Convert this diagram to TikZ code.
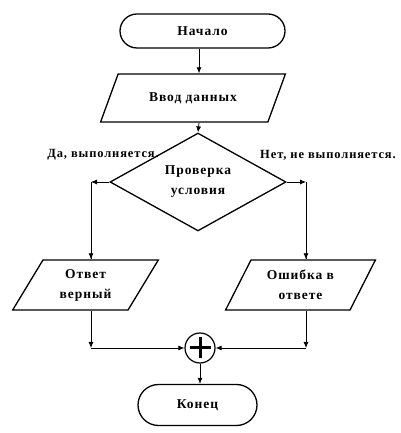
\documentclass[tikz,border=0pt]{standalone}
\usepackage{fontspec}
\setmainfont{Liberation Serif}[LetterSpace=7]
\usepackage{tikz}
\usetikzlibrary{positioning,arrows.meta,shapes,calc}

\begin{document}
\begin{tikzpicture}[x=1pt, y=1pt,
    term/.style={rounded rectangle, draw=black, line width=1.3pt,
                 minimum height=34pt, inner sep=0pt,
                 font=\fontsize{13.5}{15}\selectfont\bfseries},
    io/.style={trapezium, trapezium stretches=true, draw=black, line width=1.3pt,
               inner sep=0pt, align=center,
               font=\fontsize{13.5}{20}\selectfont\bfseries},
    cond/.style={diamond, draw=black, line width=1.3pt, inner sep=0pt,
                 minimum width=176pt, minimum height=80pt, align=center,
                 font=\fontsize{13.5}{20}\selectfont\bfseries},
    lbl/.style={font=\fontsize{12.5}{14}\selectfont\bfseries},
    ar/.style={-{Latex[length=6pt,width=5pt]}, line width=0.8pt},
    ln/.style={line width=0.8pt}
]
    \useasboundingbox (0,0) rectangle (400,433);

    % main column
    \node[term, minimum width=165pt] (beg) at (202.5,402) {Начало};
    \node[io, minimum width=185pt, minimum height=48pt,
          trapezium left angle=47.5, trapezium right angle=132.5] (inp) at (193,335) {Ввод данных};
    \node[cond] (chk) at (198,251) {Проверка\\условия};
    \node[lbl] (yes) at (103,278) {Да, выполняется.};
    \node[lbl] (no) at (328,278) {Нет, не выполняется.};

    % branches
    \node[io, minimum width=146pt, minimum height=50pt,
          trapezium left angle=60, trapezium right angle=120] (ok) at (85.5,148) {Ответ\\верный};
    \node[io, minimum width=150pt, minimum height=50pt,
          trapezium left angle=60, trapezium right angle=120] (err) at (300.5,148) {Ошибка в\\ответе};

    \node[circle, draw=black, line width=1.2pt, minimum size=30pt, inner sep=0pt] (sum) at (200,85) {};
    \draw[line width=3pt] ($(sum.center)+(-10.5,0)$) -- ($(sum.center)+(10.5,0)$);
    \draw[line width=3pt] ($(sum.center)+(0,-10.5)$) -- ($(sum.center)+(0,10.5)$);

    \node[term, minimum width=119pt, minimum height=41pt] (fin) at (197.5,28) {Конец};

    % columns of the connectors
    \coordinate (mx) at (199,0);
    \coordinate (cl) at (91,251);
    \coordinate (cr) at (306,251);
    \coordinate (jl) at (91,85);
    \coordinate (jr) at (306,85);

    \draw[ar] (beg.south -| mx) -- (inp.north -| mx);
    \draw[ar] (inp.south -| mx) -- (chk.north);
    \draw[ar] (chk.west) -- (cl);
    \draw[ln] (cl) -- (cl |- ok.north);
    \draw[ar] ($(cl |- ok.north)+(0,8)$) -- (cl |- ok.north);
    \draw[ar] (chk.east) -- (cr);
    \draw[ln] (cr) -- (cr |- err.north);
    \draw[ar] ($(cr |- err.north)+(0,8)$) -- (cr |- err.north);

    \draw[ar] (ok.south -| jl) -- (jl);
    \draw[ar] (jl) -- (sum.west);
    \draw[ar] (err.south -| jr) -- (jr);
    \draw[ar] (jr) -- (sum.east);
    \draw[ar] (sum.south) -- (sum.south |- fin.north);
\end{tikzpicture}
\end{document}
